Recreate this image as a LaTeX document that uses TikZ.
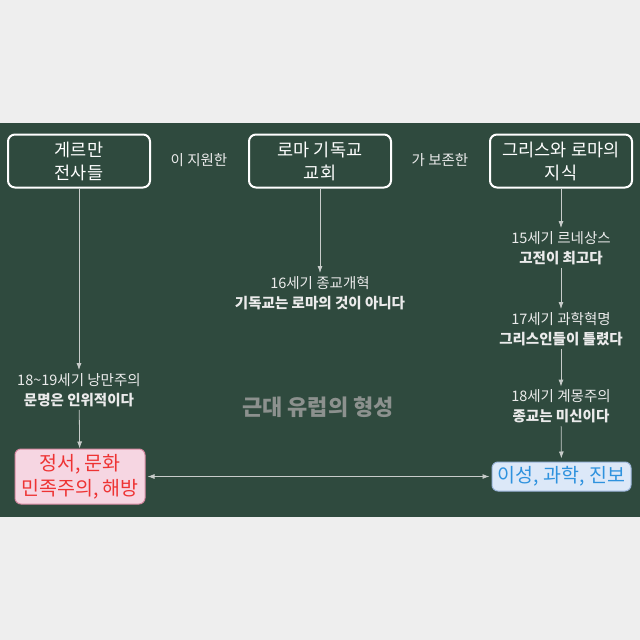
\documentclass[tikz,border=0pt]{standalone}
\usepackage{fontspec}
\setmainfont{Noto Sans CJK KR}
\usetikzlibrary{arrows.meta}
\definecolor{bgout}{HTML}{EEEEEE}
\definecolor{board}{HTML}{2F4A3E}
\definecolor{linec}{HTML}{C8CCCA}
\definecolor{txtc}{HTML}{EBEBEB}
\definecolor{titlec}{HTML}{8C918E}
\definecolor{pinkfill}{HTML}{F6D6E2}
\definecolor{pinkdraw}{HTML}{D98AA3}
\definecolor{redtxt}{HTML}{EE3333}
\definecolor{bluefill}{HTML}{DCE8F8}
\definecolor{bluedraw}{HTML}{9DB6DA}
\definecolor{bluetxt}{HTML}{2E92DE}
\begin{document}
\begin{tikzpicture}[x=1pt,y=-1pt,
  topbox/.style={draw=white, line width=2pt, rounded corners=7pt, minimum width=142pt, minimum height=53pt, text=white, font=\fontsize{17.5}{23}\selectfont, align=center, inner sep=0pt},
  lbl/.style={text=txtc, font=\fontsize{14.5}{20}\selectfont, align=center, inner sep=3pt},
  conn/.style={draw=linec, line width=0.8pt, -{Latex[length=7pt,width=5pt]}},
  endbox/.style={rounded corners=6pt, line width=1pt, align=center, inner sep=0pt, font=\fontsize{19.5}{25}\selectfont}]
\fill[bgout] (0,0) rectangle (640,640);
\fill[board] (0,123) rectangle (640,517);
\useasboundingbox (0,0) rectangle (640,640);

\node[topbox] (g) at (79,161) {게르만\\전사들};
\node[topbox] (r) at (320,161) {로마 기독교\\교회};
\node[topbox] (k) at (561,161) {그리스와 로마의\\지식};
\node[lbl] (s1) at (199,160) {이 지원한};
\node[lbl] (s2) at (440,160) {가 보존한};

\node[lbl] (ren) at (561,248) {15세기 르네상스\\\textbf{고전이 최고다}};
\node[lbl] (sci) at (561,329) {17세기 과학혁명\\\textbf{그리스인들이 틀렸다}};
\node[lbl] (enl) at (561,406.5) {18세기 계몽주의\\\textbf{종교는 미신이다}};
\node[lbl] (ref) at (320,293) {16세기 종교개혁\\\textbf{기독교는 로마의 것이 아니다}};
\node[lbl] (rom) at (79,390) {18\textasciitilde19세기 낭만주의\\\textbf{문명은 인위적이다}};

\node[endbox, fill=pinkfill, draw=pinkdraw, text=redtxt, minimum width=130pt, minimum height=55pt] (emo) at (80,476.5) {정서, 문화\\민족주의, 해방};
\node[endbox, fill=bluefill, draw=bluedraw, text=bluetxt, minimum width=139pt, minimum height=29pt] (rsn) at (561.5,476.5) {이성, 과학, 진보};

\node[text=titlec, font=\fontsize{22}{26}\selectfont\bfseries] (title) at (318,407) {근대 유럽의 형성};

\draw[conn] (g) -- (rom);
\draw[conn] (rom) -- (emo);
\draw[conn] (r) -- (ref);
\draw[conn] (k) -- (ren);
\draw[conn] (ren) -- (sci);
\draw[conn] (sci) -- (enl);
\draw[conn, shorten >=3pt] (enl) -- (rsn);
\draw[conn, {Latex[length=7pt,width=5pt]}-{Latex[length=7pt,width=5pt]}, shorten <=2pt, shorten >=2pt] (emo) -- (rsn);
\end{tikzpicture}
\end{document}
